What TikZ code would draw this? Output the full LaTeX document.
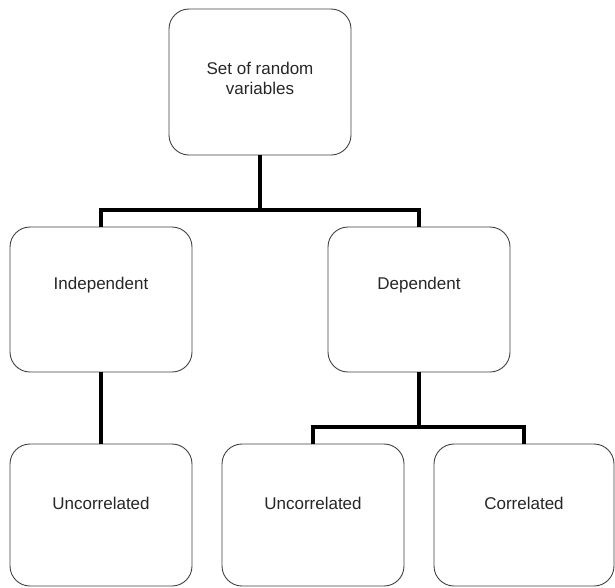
\documentclass[tikz,border=0pt]{standalone}
\usepackage{fontspec}
\setmainfont{Liberation Sans}
\begin{document}
\begin{tikzpicture}[x=1pt,y=1pt,
  box/.style={draw=black!75, line width=0.9pt, rounded corners=20pt, rectangle, minimum width=182pt, inner sep=0pt},
  lbl/.style={font=\fontsize{17}{20}\selectfont, text=black!85, align=center, inner sep=0pt},
  conn/.style={line width=4.2pt, draw=black, line join=miter}]
\useasboundingbox (0,0) rectangle (615,-587);
\node[box, minimum height=146pt] (top) at (260,-82) {};
\node[box, minimum height=145pt] (ind) at (101,-299.5) {};
\node[box, minimum height=145pt] (dep) at (419,-299.5) {};
\node[box, minimum height=142pt] (unc1) at (101,-515) {};
\node[box, minimum height=142pt] (unc2) at (313,-515) {};
\node[box, minimum height=142pt, minimum width=180pt] (cor) at (524,-515) {};
\node[lbl] (ttop) at (260,-78) {Set of random\\variables};
\node[lbl] (tind) at (101,-285) {Independent};
\node[lbl] (tdep) at (419,-285) {Dependent};
\node[lbl] (tunc1) at (101,-503) {Uncorrelated};
\node[lbl] (tunc2) at (313,-503) {Uncorrelated};
\node[lbl] (tcor) at (524,-503) {Correlated};
\coordinate (j1) at (260,-210);
\coordinate (j2) at (419,-427);
\draw[conn] (top.south) -- (j1) -| (ind.north);
\draw[conn] (j1) -| (dep.north);
\draw[conn] (ind.south) -- (unc1.north);
\draw[conn] (dep.south) -- (j2) -| (unc2.north);
\draw[conn] (j2) -| (cor.north);
\end{tikzpicture}
\end{document}
